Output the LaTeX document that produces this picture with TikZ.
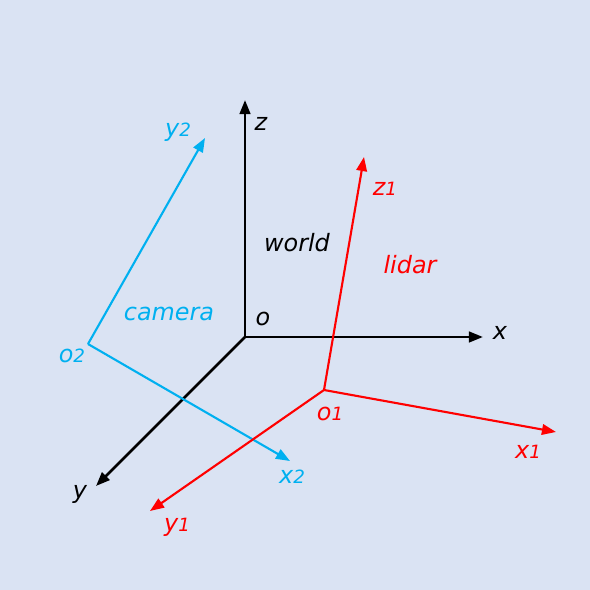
\documentclass[tikz,border=0pt]{standalone}
\usepackage{fontspec}
\setmainfont{DejaVu Sans}
\usetikzlibrary{arrows.meta}
\definecolor{bgc}{RGB}{218,227,243}
\definecolor{camc}{RGB}{0,176,240}
\definecolor{lidc}{RGB}{255,0,0}
\newcommand{\axl}[2]{#1{\fontsize{13}{13}\selectfont #2}}

\begin{document}
\begin{tikzpicture}[every node/.style={font=\fontsize{17}{20}\selectfont\itshape,inner sep=1pt},
  axis/.style={-{Triangle[length=10pt,width=7.5pt]},line width=1.9pt},
  caxis/.style={-{Triangle[length=10pt,width=7.5pt]},line width=1.5pt}]
  \fill[bgc] (0,0) rectangle (14.75,14.75);
  \useasboundingbox (0,0) rectangle (14.75,14.75);
  % world frame
  \coordinate (o) at (6.125,6.325);
  \coordinate (zt) at (6.125,12.25);
  \coordinate (xt) at (12.075,6.325);
  \coordinate (yt) at (2.4,2.6);
  \draw[axis] (o)--(zt);
  \draw[axis] (o)--(xt);
  \draw[axis] (o)--(yt);
  \node (zl) at (6.525,11.65) {z};
  \node (xl) at (12.5,6.425) {x};
  \node (yl) at (2.0,2.4) {y};
  \node (ol) at (6.575,6.775) {o};
  \node (wl) at (7.425,8.675) {world};
  % camera frame
  \coordinate (o2) at (2.2,6.15);
  \coordinate (y2t) at (5.125,11.3);
  \coordinate (x2t) at (7.25,3.225);
  \draw[caxis,camc] (o2)--(y2t);
  \draw[caxis,camc] (o2)--(x2t);
  \node[camc] (y2l) at (4.45,11.45) {\axl{y}{2}};
  \node[camc] (x2l) at (7.3,2.825) {\axl{x}{2}};
  \node[camc] (o2l) at (1.8,5.85) {\axl{o}{2}};
  \node[camc] (cl) at (4.225,6.9) {camera};
  % lidar frame
  \coordinate (o1) at (8.1,5.0);
  \coordinate (z1t) at (9.1,10.825);
  \coordinate (x1t) at (13.9,3.95);
  \coordinate (y1t) at (3.75,1.975);
  \draw[caxis,lidc] (o1)--(z1t);
  \draw[caxis,lidc] (o1)--(x1t);
  \draw[caxis,lidc] (o1)--(y1t);
  \node[lidc] (z1l) at (9.625,10.025) {\axl{z}{1}};
  \node[lidc] (x1l) at (13.2,3.45) {\axl{x}{1}};
  \node[lidc] (y1l) at (4.425,1.575) {\axl{y}{1}};
  \node[lidc] (o1l) at (8.25,4.4) {\axl{o}{1}};
  \node[lidc] (ll) at (10.25,8.125) {lidar};
\end{tikzpicture}
\end{document}
